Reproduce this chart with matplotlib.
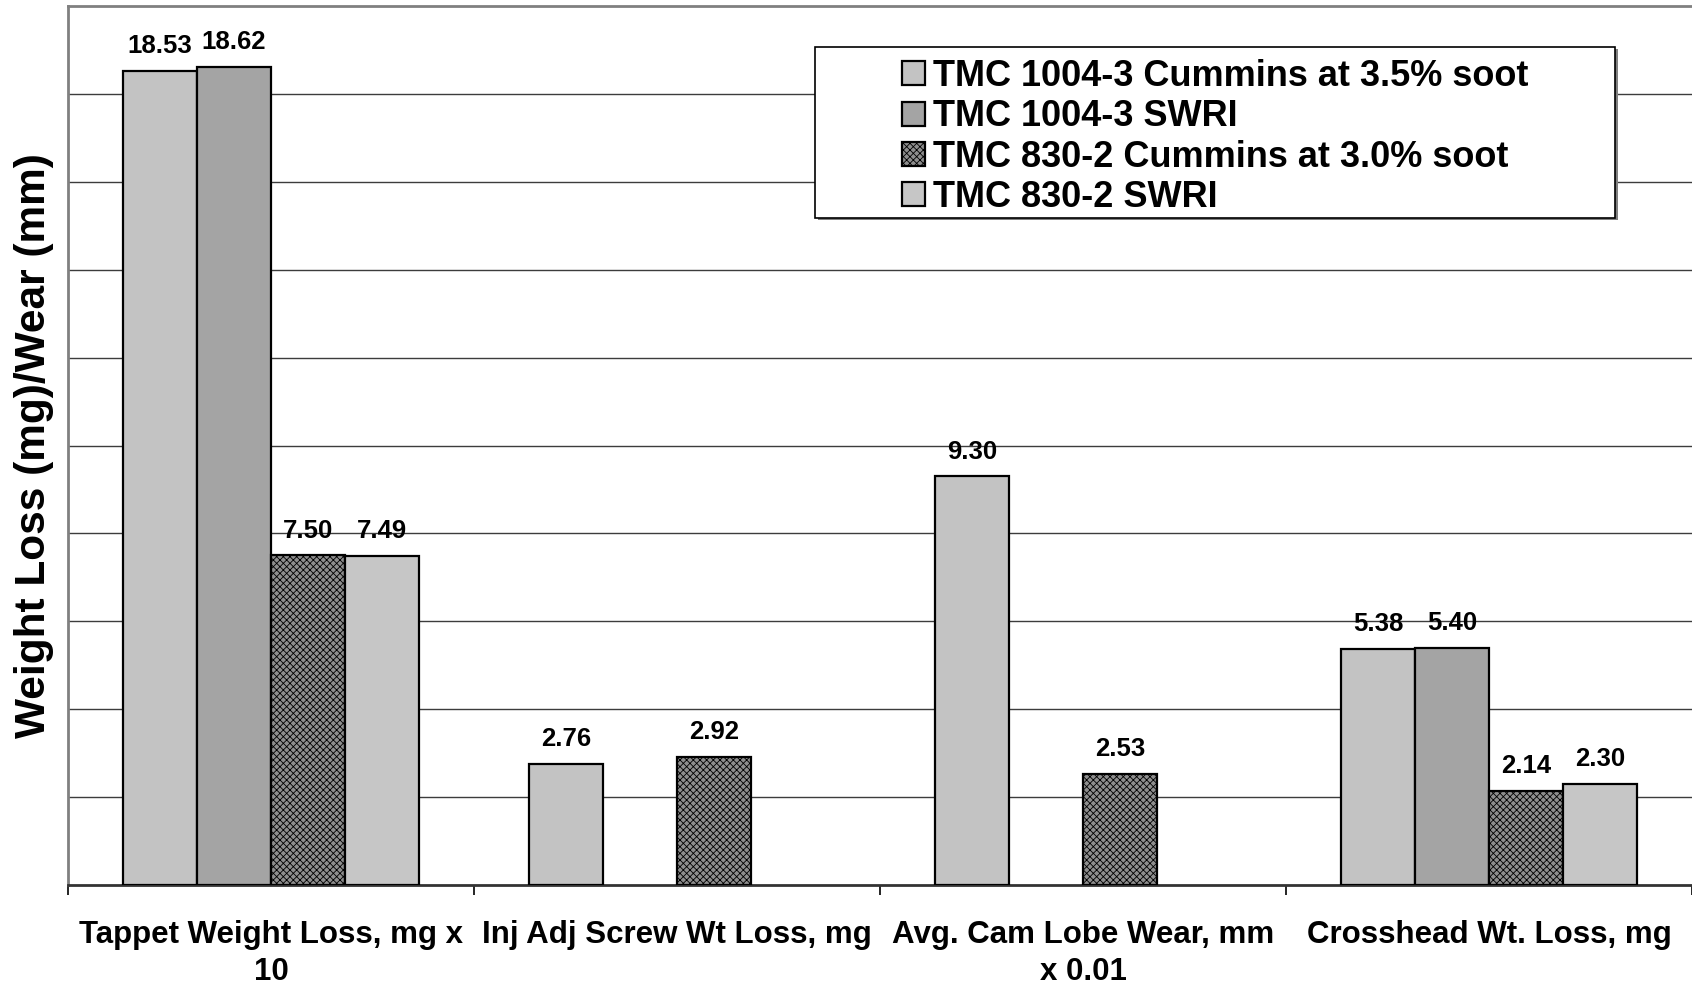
import numpy as np
import matplotlib
matplotlib.use("Agg")
import matplotlib.pyplot as plt
from matplotlib.patches import Rectangle

plt.rcParams['font.family'] = ['Liberation Sans', 'DejaVu Sans']
plt.rcParams['hatch.linewidth'] = 0.6

categories = ["Tappet Weight Loss, mg x\n10", "Inj Adj Screw Wt Loss, mg",
              "Avg. Cam Lobe Wear, mm\nx 0.01", "Crosshead Wt. Loss, mg"]
series_names = ["TMC 1004-3 Cummins at 3.5% soot", "TMC 1004-3 SWRI",
                "TMC 830-2 Cummins at 3.0% soot", "TMC 830-2 SWRI"]
s_cummins_1004 = [18.53, 2.76, 9.30, 5.38]
s_swri_1004 = [18.62, np.nan, np.nan, 5.40]
s_cummins_830 = [7.50, 2.92, 2.53, 2.14]
s_swri_830 = [7.49, np.nan, np.nan, 2.30]
series_values = [s_cummins_1004, s_swri_1004, s_cummins_830, s_swri_830]

faces = ['#c3c3c3', '#a4a4a4', '#8e8e8e', '#c6c6c6']
hatches = [None, None, 'xxxxx', None]

W, H = 1692, 986
fig = plt.figure(figsize=(W / 100, H / 100), dpi=100)
ax = fig.add_axes([68 / W, (H - 885) / H, (1692 - 68) / W, (885 - 6) / H])

x = np.arange(len(categories))
bw = 0.182
offsets = [-1.5, -0.5, 0.5, 1.5]
handles = []
for i, vals in enumerate(series_values):
    v = np.array(vals, dtype=float)
    bars = ax.bar(x + offsets[i] * bw, v, width=bw, color=faces[i],
                  edgecolor='black', linewidth=1.6, hatch=hatches[i],
                  label=series_names[i], zorder=3)
    handles.append(bars)
    for xi, vi in zip(x, v):
        if not np.isnan(vi):
            ax.annotate(f"{vi:.2f}", (xi + offsets[i] * bw, vi),
                        xytext=(0, 9), textcoords='offset points',
                        ha='center', va='bottom', fontsize=18.5,
                        fontweight='bold', zorder=4)

ax.set_xlim(-0.5, 3.5)
ax.set_ylim(0, 20)
ax.set_yticks(np.arange(2, 20, 2))
ax.tick_params(axis='y', length=0, labelleft=False)
ax.yaxis.grid(True, color='#3c3c3c', linewidth=1.0, zorder=0)
ax.set_axisbelow(True)

ax.set_xticks(x)
ax.set_xticklabels(categories, fontsize=22.5, fontweight='bold', linespacing=1.32)
ax.tick_params(axis='x', which='major', length=0, pad=25)
ax.set_xticks(np.arange(-0.5, 3.6, 1.0), minor=True)
ax.tick_params(axis='x', which='minor', length=7, width=1.2, color='black', direction='out')

ax.spines['left'].set_color('#808080')
ax.spines['left'].set_linewidth(2)
ax.spines['top'].set_color('#808080')
ax.spines['top'].set_linewidth(2)
ax.spines['right'].set_visible(False)
ax.spines['bottom'].set_color('#333333')
ax.spines['bottom'].set_linewidth(2)

ax.set_ylabel("Weight Loss (mg)/Wear (mm)", fontsize=30.5, fontweight='bold', labelpad=10)

# legend box (with shadow) drawn in figure pixel coordinates
lx0, lx1, ly0, ly1 = 815, 1615, 47, 218
shadow = Rectangle(((lx0 + 3) / W, (H - ly1 - 2) / H), (lx1 - lx0) / W, (ly1 - ly0) / H,
                   transform=fig.transFigure, facecolor='#808080', edgecolor='none', zorder=5)
box = Rectangle((lx0 / W, (H - ly1) / H), (lx1 - lx0) / W, (ly1 - ly0) / H,
                transform=fig.transFigure, facecolor='white', edgecolor='black',
                linewidth=1.2, zorder=6)
fig.patches.extend([shadow, box])

leg = fig.legend(handles=handles, labels=series_names, loc='center',
                 bbox_to_anchor=((lx0 + lx1) / 2 / W, 1 - ((ly0 + ly1) / 2 + 4.5) / H),
                 frameon=False, prop={'size': 26, 'weight': 'bold'},
                 handlelength=0.65, handleheight=0.65, handletextpad=0.22,
                 labelspacing=0.15, borderpad=0.2)
leg.set_zorder(7)

fig.savefig("out.png", dpi=100)
